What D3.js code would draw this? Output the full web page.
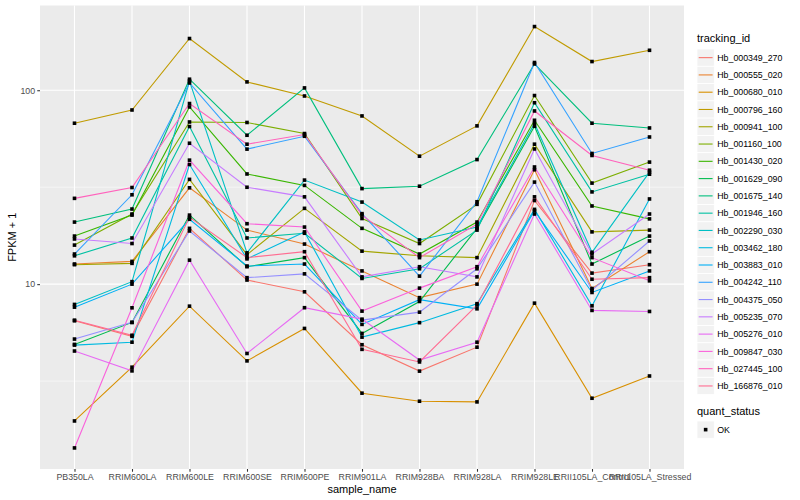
<!DOCTYPE html>
<html><head><meta charset="utf-8">
<script src="https://cdn.jsdelivr.net/npm/d3@7"></script>
<style>
body{margin:0;background:#fff}
text{font-family:"Liberation Sans",Arial,Helvetica,sans-serif}
</style>
</head><body>
<svg id="chart" width="800" height="500"></svg>
<script>
// ---------- data ----------
const categories = ["PB350LA","RRIM600LA","RRIM600LE","RRIM600SE","RRIM600PE","RRIM901LA","RRIM928BA","RRIM928LA","RRIM928LE","RRII105LA_Control","RRII105LA_Stressed"];
const trackingIds = ["Hb_000349_270","Hb_000555_020","Hb_000680_010","Hb_000796_160","Hb_000941_100","Hb_001160_100","Hb_001430_020","Hb_001629_090","Hb_001675_140","Hb_001946_160","Hb_002290_030","Hb_003462_180","Hb_003883_010","Hb_004242_110","Hb_004375_050","Hb_005235_070","Hb_005276_010","Hb_009847_030","Hb_027445_100","Hb_166876_010"];
const seriesColors = ["#F8766D","#EA8331","#D89000","#C09B00","#A3A500","#7CAE00","#39B600","#00BB4E","#00BF7D","#00C1A3","#00BFC4","#00BAE0","#00B0F6","#35A2FF","#9590FF","#C77CFF","#E76BF3","#FA62DB","#FF62BC","#FF6C91"];

const Hb_000349_270 = [6.47, 5.38, 19.4, 10.5, 9.13, 4.87, 3.56, 4.73, 27.0, 11.4, 12.6];
const Hb_000555_020 = [12.7, 13.1, 31.4, 19.0, 16.1, 11.7, 8.52, 10.0, 38.9, 9.50, 14.7];
const Hb_000680_010 = [1.97, 3.73, 7.70, 4.02, 5.91, 2.74, 2.49, 2.47, 7.98, 2.58, 3.36];
const Hb_000796_160 = [67.6, 79.1, 184.8, 110.4, 93.4, 73.7, 45.7, 65.5, 213, 140.6, 160.7];
const Hb_000941_100 = [12.6, 12.8, 34.7, 14.2, 24.6, 14.8, 14.0, 13.7, 52.7, 18.6, 19.0];
const Hb_001160_100 = [15.9, 23.0, 68.6, 68.2, 59.8, 21.8, 16.2, 25.8, 93.9, 33.2, 42.6];
const Hb_001430_020 = [17.7, 22.7, 82.0, 37.0, 32.3, 19.4, 14.3, 20.9, 70.0, 25.3, 21.7];
const Hb_001629_090 = [4.89, 6.35, 22.7, 12.3, 13.7, 5.57, 8.14, 19.4, 65.2, 12.7, 17.7];
const Hb_001675_140 = [20.9, 24.4, 114, 58.6, 102.8, 31.1, 32.0, 43.9, 136.6, 67.6, 63.9];
const Hb_001946_160 = [14.0, 17.3, 65.0, 17.3, 18.3, 10.7, 12.0, 19.0, 86.2, 29.9, 36.9];
const Hb_002290_030 = [7.86, 10.3, 111.6, 14.5, 34.4, 26.5, 16.9, 19.7, 67.4, 14.6, 37.8];
const Hb_003462_180 = [4.85, 5.02, 41.4, 13.5, 18.6, 5.33, 6.33, 7.93, 24.3, 7.73, 27.5];
const Hb_003883_010 = [7.61, 10.0, 21.6, 12.4, 12.7, 6.20, 8.32, 7.46, 23.9, 9.06, 11.7];
const Hb_004242_110 = [14.3, 28.9, 109.0, 49.7, 57.9, 23.1, 11.0, 26.6, 139, 47.2, 57.4];
const Hb_004375_050 = [5.21, 6.35, 18.8, 10.8, 11.3, 6.52, 7.17, 12.0, 33.6, 9.31, 16.7];
const Hb_005235_070 = [17.1, 16.2, 53.3, 31.6, 28.2, 10.9, 12.3, 10.9, 49.8, 14.3, 23.0];
const Hb_005276_010 = [4.52, 3.57, 13.3, 4.39, 7.56, 6.60, 4.06, 5.02, 23.0, 7.32, 7.23];
const Hb_009847_030 = [1.43, 7.55, 43.6, 20.5, 19.7, 7.26, 9.54, 12.3, 40.2, 13.7, 10.4];
const Hb_027445_100 = [27.7, 31.5, 85.4, 52.7, 59.1, 22.7, 13.7, 20.4, 78.2, 46.1, 38.7];
const Hb_166876_010 = [6.52, 5.45, 22.1, 13.7, 14.7, 4.61, 3.97, 7.80, 28.2, 10.6, 10.8];

const seriesValues = [Hb_000349_270,Hb_000555_020,Hb_000680_010,Hb_000796_160,Hb_000941_100,Hb_001160_100,Hb_001430_020,Hb_001629_090,Hb_001675_140,Hb_001946_160,Hb_002290_030,Hb_003462_180,Hb_003883_010,Hb_004242_110,Hb_004375_050,Hb_005235_070,Hb_005276_010,Hb_009847_030,Hb_027445_100,Hb_166876_010];
const yTicks = [10, 100];
const quantStatus = ["OK"];

// ---------- layout ----------
const svg = d3.select("#chart");
const panel = {left: 40, right: 684, top: 5.5, bottom: 469};

const x = d3.scalePoint().domain(categories).range([panel.left, panel.right]).padding(0.6);

const allVals = seriesValues.flat();
const lmin = Math.log10(d3.min(allVals)), lmax = Math.log10(d3.max(allVals));
const pad = (lmax - lmin) * 0.05;
const y = d3.scaleLog().domain([Math.pow(10, lmin - pad), Math.pow(10, lmax + pad)]).range([panel.bottom, panel.top]);

// panel background
svg.append("rect").attr("x", panel.left).attr("y", panel.top)
  .attr("width", panel.right - panel.left).attr("height", panel.bottom - panel.top)
  .attr("fill", "#EBEBEB");

// grid
const [d0, d1] = y.domain();
const minorY = [];
for (let e = Math.floor(Math.log10(d0)) - 1; e <= Math.ceil(Math.log10(d1)); e++) {
  const v = Math.pow(10, e + 0.5);
  if (v > d0 && v < d1) minorY.push(v);
}
const grid = svg.append("g");
grid.selectAll(".ymin").data(minorY).join("line")
  .attr("x1", panel.left).attr("x2", panel.right)
  .attr("y1", d => y(d)).attr("y2", d => y(d))
  .attr("stroke", "#fff").attr("stroke-width", 0.55);
grid.selectAll(".ymaj").data(yTicks).join("line")
  .attr("x1", panel.left).attr("x2", panel.right)
  .attr("y1", d => y(d)).attr("y2", d => y(d))
  .attr("stroke", "#fff").attr("stroke-width", 1.1);
grid.selectAll(".xmaj").data(categories).join("line")
  .attr("x1", d => x(d)).attr("x2", d => x(d))
  .attr("y1", panel.top).attr("y2", panel.bottom)
  .attr("stroke", "#fff").attr("stroke-width", 1.1);

// lines
const line = d3.line().x((d, i) => x(categories[i])).y(d => y(d));
svg.append("g").selectAll("path").data(seriesValues).join("path")
  .attr("d", d => line(d)).attr("fill", "none")
  .attr("stroke", (d, i) => seriesColors[i]).attr("stroke-width", 1.1);

// points
const pts = [];
seriesValues.forEach(s => s.forEach((v, i) => pts.push([categories[i], v])));
const ps = 3.6;
svg.append("g").selectAll("rect").data(pts).join("rect")
  .attr("x", d => x(d[0]) - ps / 2).attr("y", d => y(d[1]) - ps / 2)
  .attr("width", ps).attr("height", ps).attr("fill", "#000");

// axes
const yAxis = svg.append("g").attr("transform", `translate(${panel.left},0)`)
  .call(d3.axisLeft(y).tickValues(yTicks).tickFormat(d3.format("d")).tickSize(2.75).tickPadding(2.2));
const xAxis = svg.append("g").attr("transform", `translate(0,${panel.bottom})`)
  .call(d3.axisBottom(x).tickSize(2.75).tickPadding(2.5));
[yAxis, xAxis].forEach(a => {
  a.select(".domain").remove();
  a.selectAll(".tick line").attr("stroke", "#333333").attr("stroke-width", 1.07);
  a.selectAll(".tick text").attr("fill", "#4D4D4D").style("font-size", "8.8px");
});

// axis titles
svg.append("text").attr("x", (panel.left + panel.right) / 2).attr("y", 493)
  .attr("text-anchor", "middle").style("font-size", "11px").attr("fill", "#000").text("sample_name");
svg.append("text").attr("transform", `translate(16,${(panel.top + panel.bottom) / 2}) rotate(-90)`)
  .attr("text-anchor", "middle").style("font-size", "11px").attr("fill", "#000").text("FPKM + 1");

// legend: tracking_id
const lg = svg.append("g").attr("transform", "translate(697,0)");
lg.append("text").attr("x", 0).attr("y", 42).style("font-size", "11px").text("tracking_id");
const keyH = 17.28, keyTop = 49;
trackingIds.forEach((id, i) => {
  const ty = keyTop + i * keyH;
  lg.append("rect").attr("x", 0).attr("y", ty).attr("width", keyH).attr("height", keyH)
    .attr("fill", "#F2F2F2").attr("stroke", "#fff").attr("stroke-width", 0.8);
  lg.append("line").attr("x1", 1.7).attr("x2", keyH - 1.7).attr("y1", ty + keyH / 2).attr("y2", ty + keyH / 2)
    .attr("stroke", seriesColors[i]).attr("stroke-width", 1.1);
  lg.append("text").attr("x", keyH + 3).attr("y", ty + keyH / 2 + 3.1)
    .style("font-size", "8.8px").attr("fill", "#000").text(id);
});
// legend: quant_status
lg.append("text").attr("x", 0).attr("y", 415).style("font-size", "11px").text("quant_status");
quantStatus.forEach((q, i) => {
  const ty = 421 + i * keyH;
  lg.append("rect").attr("x", 0).attr("y", ty).attr("width", keyH).attr("height", keyH)
    .attr("fill", "#F2F2F2").attr("stroke", "#fff").attr("stroke-width", 0.8);
  lg.append("rect").attr("x", keyH / 2 - ps / 2).attr("y", ty + keyH / 2 - ps / 2)
    .attr("width", ps).attr("height", ps).attr("fill", "#000");
  lg.append("text").attr("x", keyH + 3).attr("y", ty + keyH / 2 + 3.1)
    .style("font-size", "8.8px").attr("fill", "#000").text(q);
});
</script>
</body></html>
